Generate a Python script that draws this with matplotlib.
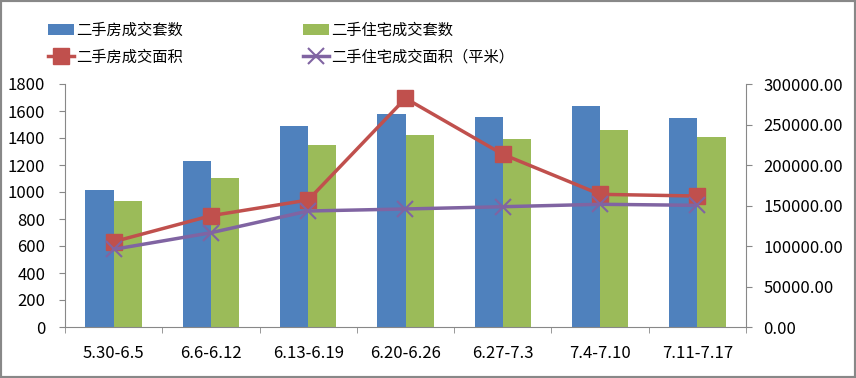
import matplotlib
matplotlib.use("Agg")
import matplotlib.pyplot as plt
import numpy as np
from matplotlib.patches import Rectangle

categories = ["5.30-6.5", "6.6-6.12", "6.13-6.19", "6.20-6.26", "6.27-7.3", "7.4-7.10", "7.11-7.17"]
house_units = [1015, 1230, 1489, 1580, 1555, 1640, 1548]
resi_units = [933, 1104, 1348, 1422, 1393, 1459, 1407]
house_area = [105300, 137400, 156800, 282300, 213200, 163800, 161700]
resi_area = [95900, 116400, 143200, 145700, 148500, 151500, 150200]

plt.rcParams['font.family'] = ['Noto Sans CJK SC', 'DejaVu Sans']

fig = plt.figure(figsize=(8.56, 3.78), dpi=100)
ax = fig.add_axes([65/856, 1-327/378, 681/856, 243/378])
ax2 = ax.twinx()

x = np.arange(len(categories))
w = 0.29
b1 = ax.bar(x - w/2, house_units, w, color='#4F81BD', label='二手房成交套数', zorder=2)
b2 = ax.bar(x + w/2, resi_units, w, color='#9BBB59', label='二手住宅成交套数', zorder=2)
l1, = ax2.plot(x, house_area, color='#C0504D', lw=2.5, marker='s', ms=11, label='二手房成交面积')
l2, = ax2.plot(x, resi_area, color='#8064A2', lw=2.5, marker='x', ms=11, mew=1.5, label='二手住宅成交面积（平米）')

ax.set_xlim(-0.5, len(categories) - 0.5)
ax.set_ylim(0, 1800)
ax.set_yticks(np.arange(0, 1801, 200))
ax2.set_ylim(0, 300000)
ax2.set_yticks(np.arange(0, 300001, 50000))
ax2.set_yticklabels([f"{v:.2f}" for v in np.arange(0, 300001, 50000)])

ax.set_xticks(x)
ax.set_xticklabels(categories)
ax.set_xticks(np.arange(-0.5, len(categories), 1), minor=True)
ax.tick_params(axis='x', which='major', length=0, pad=13, labelsize=12)
ax.tick_params(axis='x', which='minor', length=4.3, color='#888888', direction='out')
ax.tick_params(axis='y', length=4.3, color='#888888', labelsize=12, pad=10)
ax2.tick_params(axis='y', length=4.3, color='#888888', labelsize=12, pad=8)

for a in (ax, ax2):
    a.spines['top'].set_visible(False)
    for s in ('left', 'right', 'bottom'):
        a.spines[s].set_color('#888888')
ax.spines['right'].set_visible(False)
ax2.spines['left'].set_visible(False)
ax2.spines['bottom'].set_visible(False)

leg_kw = dict(loc='upper left', frameon=False, fontsize=11, handlelength=1.7,
              handletextpad=0.15, labelspacing=0.62, borderaxespad=0)
fig.legend([b1, l1], [b1.get_label(), l1.get_label()],
           bbox_to_anchor=(42/856, 1-16/378), **leg_kw)
fig.legend([b2, l2], [b2.get_label(), l2.get_label()],
           bbox_to_anchor=(297/856, 1-16/378), **leg_kw)

fig.patches.append(Rectangle((0, 0), 1, 1, transform=fig.transFigure, fill=False,
                             edgecolor='#888888', lw=3))

fig.savefig('out.png', dpi=100)
